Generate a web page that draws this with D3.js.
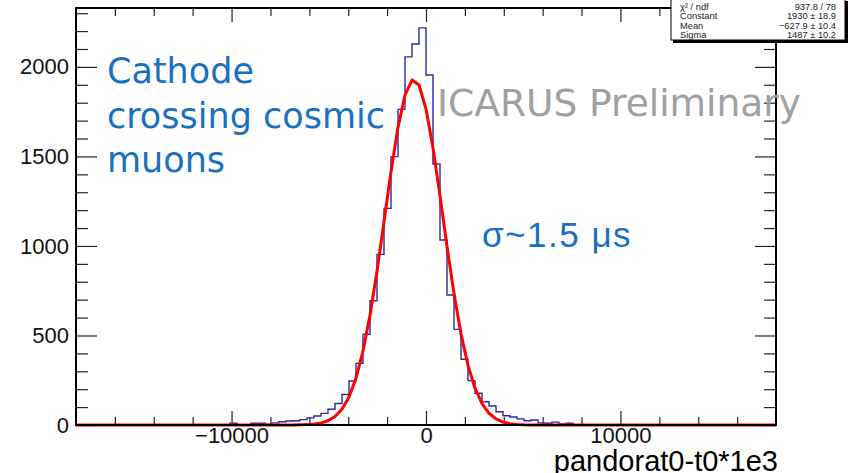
<!DOCTYPE html>
<html lang="en">
  <head>
    <meta charset="UTF-8" />
    <title>pandorat0-t0*1e3</title>
    <style>
      html, body { margin: 0; padding: 0; background: #fff; }
      .histChart { width: 850px; height: 473px; }
    </style>
  </head>
  <body>
    <div class="histChart"></div>
    <script src="https://d3js.org/d3.v7.min.js"></script>
    <script>
      // histogram: 100 bins over [-18000, 18000], non-empty part starts at -10080
      const xRange = [-18000, 18000];
      const binWidth = 360;
      const firstBinLow = -10080;
      const binCounts = [
        10, 0, 0, 10, 10, 4, 12, 18, 22, 24,
        30, 40, 50, 65, 88, 120, 170, 246, 344, 507,
        694, 953, 1210, 1499, 1763, 2056, 2128, 2218, 1955, 1458,
        1033, 726, 534, 367, 248, 177, 130, 106, 74, 52,
        45, 34, 24, 28, 12, 10, 16, 6, 10, 0,
      ];

      // gaus fit curve as drawn
      const fitX = [
        -18000, -7200, -6840, -6480, -6120, -5760, -5400, -5040, -4680, -4320,
        -3960, -3600, -3240, -2880, -2520, -2160, -1800, -1440, -1080, -720,
        -360, 0, 360, 720, 1080, 1440, 1800, 2160, 2520, 2880,
        3240, 3600, 3960, 4320, 4680, 5040, 5400, 5760, 18000,
      ];
      const fitY = [
        0, 0.1, 0.3, 0.8, 2.1, 5.0, 11.2, 23.7, 47.1, 88.4,
        156.7, 261.7, 412.4, 612.8, 858.7, 1135.4, 1414.7, 1662.7, 1842.8, 1926.3,
        1899.0, 1765.4, 1547.9, 1279.8, 998.0, 733.8, 509.0, 332.9, 205.4, 119.5,
        65.5, 33.9, 16.5, 7.6, 3.3, 1.4, 0.5, 0.2, 0,
      ];

      // axis ticks
      const xMajorTicks = [-10000, 0, 10000];
      const xMinorTicks = [-16000, -14000, -12000, -8000, -6000, -4000, -2000, 2000, 4000, 6000, 8000, 12000, 14000, 16000];
      const yMajorTicks = [0, 500, 1000, 1500, 2000];
      const yMinorTicks = [100, 200, 300, 400, 600, 700, 800, 900, 1100, 1200, 1300, 1400, 1600, 1700, 1800, 1900, 2100, 2200, 2300];
      const yMax = 2329;

      // stats box
      const statLabels = ["\u03c7\u00b2 / ndf", "Constant", "Mean", "Sigma"];
      const statValues = ["937.8 / 78", "1930 \u00b1 18.9", "\u2212627.9 \u00b1 10.4", "1487 \u00b1 10.2"];

      const annotLines = ["Cathode", "crossing cosmic", "muons"];

      const drawChart = () => {
        const margin = { top: 8, right: 74, bottom: 48, left: 76 },
          svgWidth = 850,
          svgHeight = 473,
          width = svgWidth - margin.left - margin.right,
          height = svgHeight - margin.top - margin.bottom;

        const svg = d3
          .select(".histChart")
          .append("svg")
          .attr("width", svgWidth)
          .attr("height", svgHeight)
          .style("font-family", "'Liberation Sans', Arial, sans-serif");

        const xScale = d3
          .scaleLinear()
          .domain(xRange)
          .range([margin.left, margin.left + width]);

        const yScale = d3
          .scaleLinear()
          .domain([0, yMax])
          .range([margin.top + height, margin.top]);

        const bottom = margin.top + height,
          right = margin.left + width;

        // 軸 ticks (ROOT style, inside the frame on all four sides)
        const tickAxis = (gen, transform, labels) => {
          const g = svg.append("g").attr("transform", transform).call(gen);
          g.select(".domain").remove();
          g.selectAll(".tick line").attr("stroke", "#222").attr("stroke-width", 1.2);
          if (!labels) g.selectAll("text").remove();
          return g;
        };

        const yLab = tickAxis(
          d3.axisLeft(yScale).tickValues(yMajorTicks).tickSize(-21).tickPadding(7).tickFormat(d3.format("d")),
          `translate(${margin.left},0)`,
          true
        );
        yLab.selectAll("text").attr("font-size", 22).attr("fill", "#111");
        tickAxis(d3.axisLeft(yScale).tickValues(yMinorTicks).tickSize(-12), `translate(${margin.left},0)`, false);
        tickAxis(d3.axisRight(yScale).tickValues(yMajorTicks).tickSize(-21), `translate(${right},0)`, false);
        tickAxis(d3.axisRight(yScale).tickValues(yMinorTicks).tickSize(-12), `translate(${right},0)`, false);

        const xLab = tickAxis(
          d3.axisBottom(xScale).tickValues(xMajorTicks).tickSize(-14).tickPadding(2).tickFormat(d3.format("d")),
          `translate(0,${bottom})`,
          true
        );
        xLab.selectAll("text").attr("font-size", 22).attr("fill", "#111").attr("dy", "0.71em");
        tickAxis(d3.axisBottom(xScale).tickValues(xMinorTicks).tickSize(-8), `translate(0,${bottom})`, false);
        tickAxis(d3.axisTop(xScale).tickValues(xMajorTicks).tickSize(-14), `translate(0,${margin.top})`, false);
        tickAxis(d3.axisTop(xScale).tickValues(xMinorTicks).tickSize(-8), `translate(0,${margin.top})`, false);

        // 直方圖 outline (full range, empty bins on the baseline)
        const nBins = (xRange[1] - xRange[0]) / binWidth;
        const offset = (firstBinLow - xRange[0]) / binWidth;
        const bins = d3.range(nBins).map((i) => {
          const k = i - offset;
          return {
            x0: xRange[0] + i * binWidth,
            x1: xRange[0] + (i + 1) * binWidth,
            n: k >= 0 && k < binCounts.length ? binCounts[k] : 0,
          };
        });
        const steps = [[bins[0].x0, 0]];
        bins.forEach((b) => {
          steps.push([b.x0, b.n]);
          steps.push([b.x1, b.n]);
        });
        steps.push([xRange[1], 0]);

        const line = d3
          .line()
          .x((d) => xScale(d[0]))
          .y((d) => yScale(d[1]));

        svg
          .append("path")
          .datum(steps)
          .attr("d", line)
          .attr("fill", "none")
          .attr("stroke", "#2a2aa8")
          .attr("stroke-width", 1.4);

        // 擬合曲線
        svg
          .append("path")
          .datum(fitX.map((x, i) => [x, fitY[i]]))
          .attr("d", line)
          .attr("fill", "none")
          .attr("stroke", "#ff0000")
          .attr("stroke-width", 3)
          .attr("stroke-linejoin", "round");

        // frame
        svg
          .append("rect")
          .attr("x", margin.left)
          .attr("y", margin.top)
          .attr("width", width)
          .attr("height", height)
          .attr("fill", "none")
          .attr("stroke", "#000")
          .attr("stroke-width", 2);

        // x axis title
        svg
          .append("text")
          .attr("x", right + 2)
          .attr("y", 471)
          .attr("text-anchor", "end")
          .attr("font-size", 29)
          .attr("fill", "#000")
          .text("pandorat0-t0*1e3");

        // annotations
        svg
          .append("g")
          .selectAll("text")
          .data(annotLines)
          .join("text")
          .attr("x", 107)
          .attr("y", (d, i) => 83 + i * 44.5)
          .attr("font-family", "'DejaVu Sans', sans-serif")
          .attr("font-size", 35)
          .attr("fill", "#1a70c0")
          .text((d) => d);

        svg
          .append("text")
          .attr("x", 437)
          .attr("y", 116)
          .attr("font-family", "'DejaVu Sans', sans-serif")
          .attr("font-size", 37.5)
          .attr("fill", "#a0a0a0")
          .text("ICARUS Preliminary");

        svg
          .append("text")
          .attr("x", 482)
          .attr("y", 247)
          .attr("font-size", 35)
          .attr("letter-spacing", 1.5)
          .attr("fill", "#1a70c0")
          .text("\u03c3~1.5 \u03bcs");

        // stats box
        const box = svg.append("g");
        box.append("rect").attr("x", 673).attr("y", 1).attr("width", 175).attr("height", 42).attr("fill", "#000");
        box
          .append("rect")
          .attr("x", 671)
          .attr("y", -2)
          .attr("width", 174)
          .attr("height", 42)
          .attr("fill", "#fff")
          .attr("stroke", "#000")
          .attr("stroke-width", 1);
        box
          .selectAll(".lab")
          .data(statLabels)
          .join("text")
          .attr("class", "lab")
          .attr("x", 680)
          .attr("y", (d, i) => 9.5 + i * 9.5)
          .attr("font-size", 9.3)
          .attr("fill", "#222")
          .text((d) => d);
        box
          .selectAll(".val")
          .data(statValues)
          .join("text")
          .attr("class", "val")
          .attr("x", 836)
          .attr("y", (d, i) => 9.5 + i * 9.5)
          .attr("text-anchor", "end")
          .attr("font-size", 9.3)
          .attr("fill", "#222")
          .text((d) => d);
      };

      drawChart();
    </script>
  </body>
</html>
